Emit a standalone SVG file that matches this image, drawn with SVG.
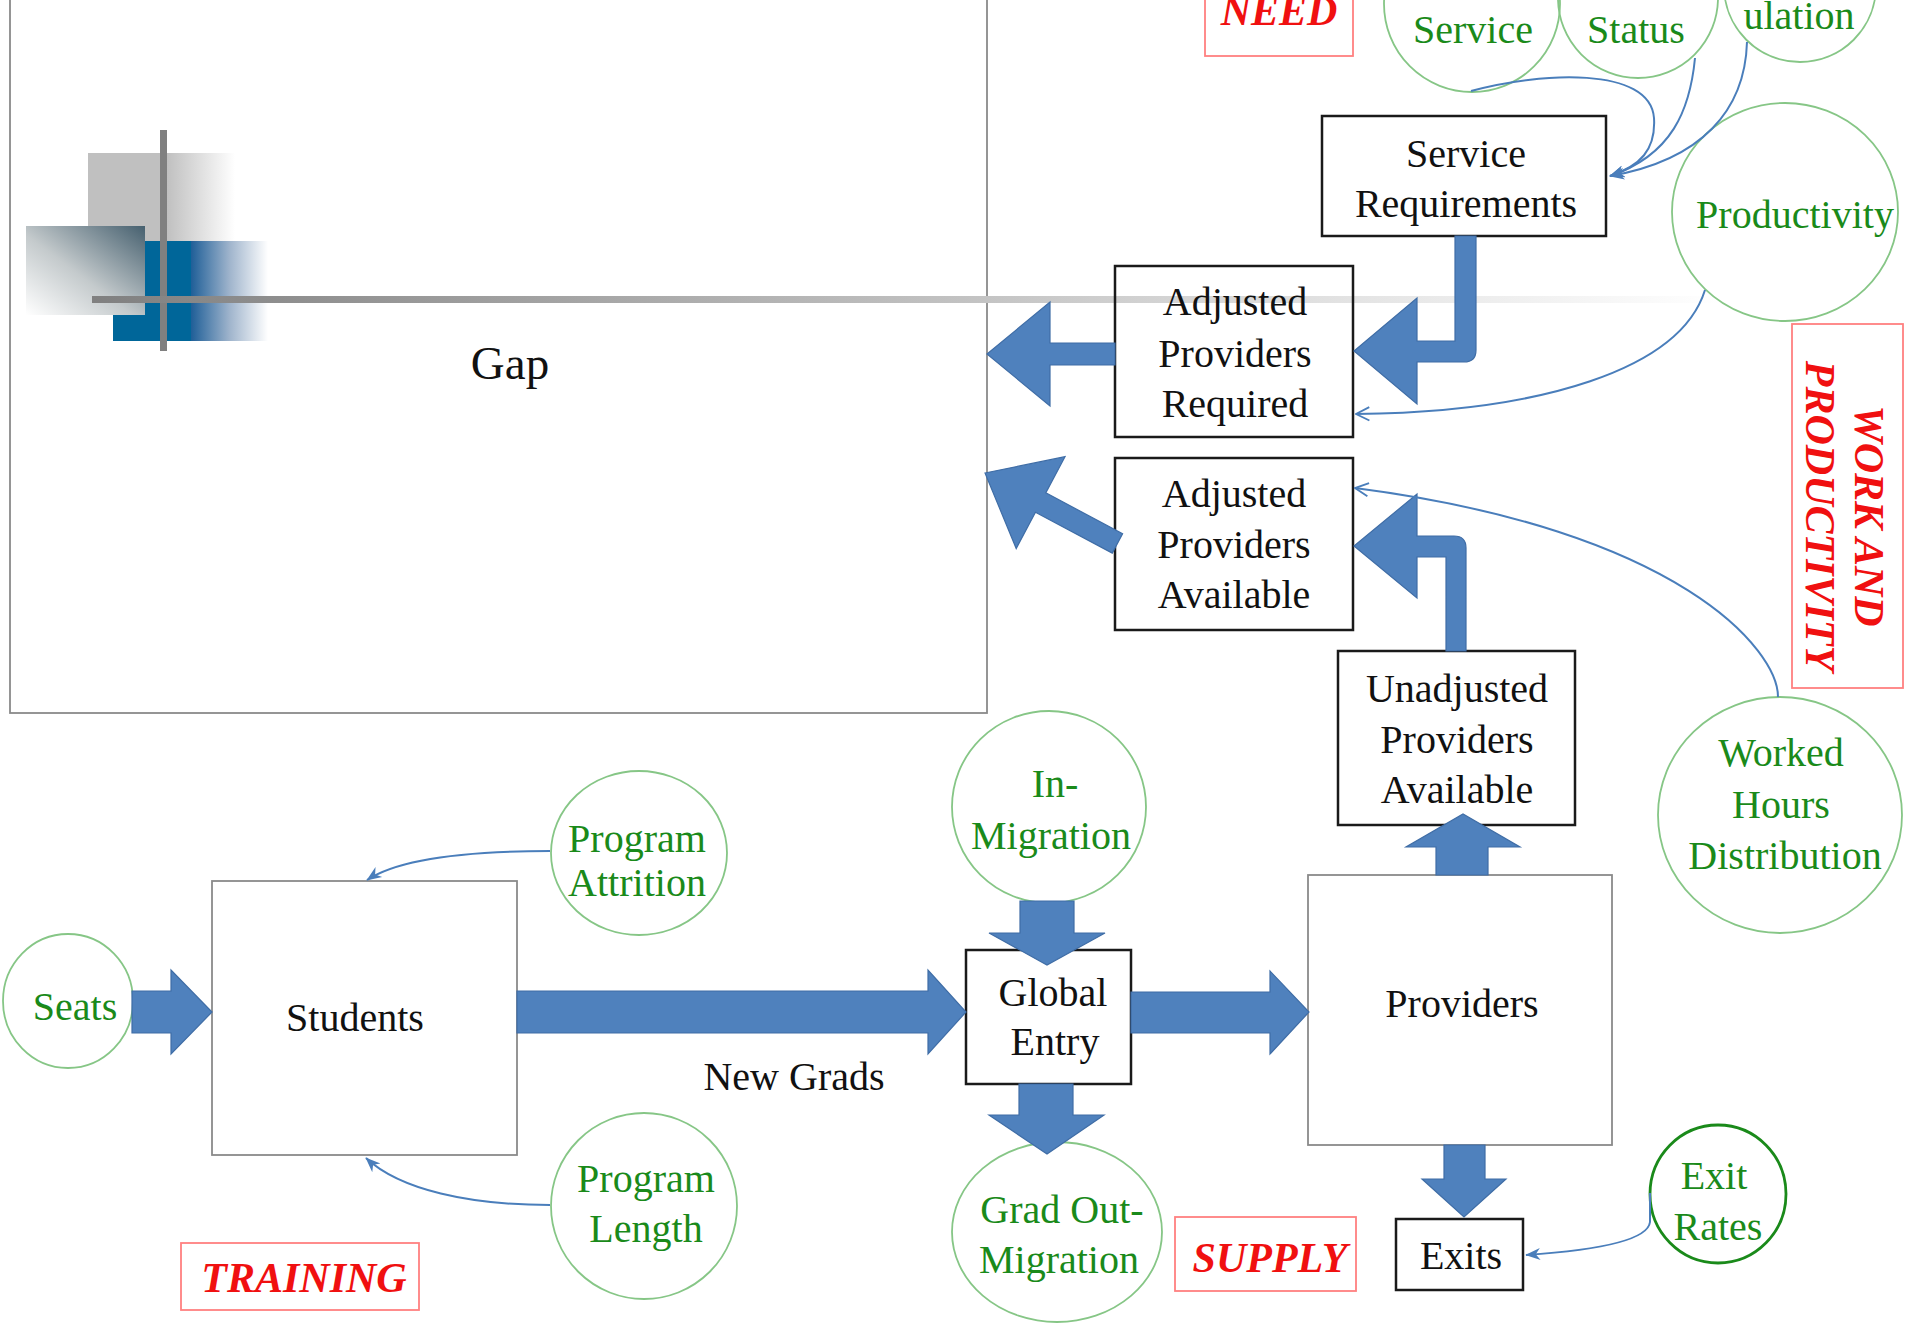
<svg xmlns="http://www.w3.org/2000/svg" width="1911" height="1326" viewBox="0 0 1911 1326">
<defs>
<style>
.t{font-family:"Liberation Serif","Times New Roman",serif;font-size:40px;fill:#111;text-anchor:middle}
.g{font-family:"Liberation Serif","Times New Roman",serif;font-size:40px;fill:#1a8a1a;text-anchor:middle}
.r{font-family:"Liberation Serif","Times New Roman",serif;font-size:42px;fill:#f01010;font-weight:bold;font-style:italic;text-anchor:middle}
.bx{fill:none;stroke:#1a1a1a;stroke-width:2.5}
.gb{fill:none;stroke:#8a8a8a;stroke-width:1.8}
.rb{fill:none;stroke:#ff8080;stroke-width:1.8}
.c{fill:none;stroke:#86c686;stroke-width:1.8}
.ba{fill:#4f81bd;stroke:#3f6da6;stroke-width:1.2}
.ln{fill:none;stroke:#4a7ebb;stroke-width:2}
</style>
<linearGradient id="grayFade" x1="0" y1="0" x2="1" y2="0"><stop offset="0" stop-color="#c0c0c0"/><stop offset="1" stop-color="#ffffff"/></linearGradient>
<linearGradient id="blueFade" x1="0" y1="0" x2="1" y2="0"><stop offset="0" stop-color="#1f5f98"/><stop offset="0.5" stop-color="#9fb4cc"/><stop offset="1" stop-color="#ffffff"/></linearGradient>
<linearGradient id="diagFade" x1="1" y1="0" x2="0" y2="1"><stop offset="0" stop-color="#46606f"/><stop offset="0.55" stop-color="#c4cacc"/><stop offset="1" stop-color="#ffffff"/></linearGradient>
<linearGradient id="lineFade" gradientUnits="userSpaceOnUse" x1="92" y1="0" x2="1720" y2="0"><stop offset="0" stop-color="#808080"/><stop offset="0.55" stop-color="#c4c4c4"/><stop offset="0.78" stop-color="#e4e4e4"/><stop offset="1" stop-color="#ffffff"/></linearGradient>
<marker id="ah" viewBox="0 0 10 10" refX="9.5" refY="5" markerWidth="15" markerHeight="15" markerUnits="userSpaceOnUse" orient="auto"><path d="M0,1 L10,5 L0,9 L3,5 z" fill="#4a7ebb"/></marker>
<marker id="av" viewBox="0 0 12 12" refX="11" refY="6" markerWidth="16" markerHeight="16" markerUnits="userSpaceOnUse" orient="auto"><path d="M1,1 L11,6 L1,11" fill="none" stroke="#4a7ebb" stroke-width="1.4"/></marker>
</defs>
<rect width="1911" height="1326" fill="#ffffff"/>

<g id="gap-frame">
<rect x="10" y="-5" width="977" height="718" class="gb"/>
<rect x="88" y="153" width="80" height="88" fill="#c0c0c0"/>
<rect x="167" y="153" width="68" height="88" fill="url(#grayFade)"/>
<rect x="113" y="241" width="79" height="100" fill="#006699"/>
<rect x="191" y="241" width="77" height="100" fill="url(#blueFade)"/>
<rect x="26" y="226" width="119" height="89" fill="url(#diagFade)"/>
<rect x="160" y="130" width="7" height="221" fill="#808080"/>
<rect x="92" y="296" width="1628" height="7" fill="url(#lineFade)"/>
<text class="t" x="510" y="379" style="font-size:47px">Gap</text>
</g>

<g id="label-need"><rect x="1205" y="-5" width="148" height="61" class="rb"/><text class="r" x="1279" y="25">NEED</text></g>
<g id="label-training"><rect x="181" y="1243" width="238" height="67" class="rb"/><text class="r" x="304" y="1292">TRAINING</text></g>
<g id="label-supply"><rect x="1175" y="1217" width="181" height="74" class="rb"/><text class="r" x="1270" y="1272">SUPPLY</text></g>
<g id="label-work"><rect x="1792" y="324" width="111" height="364" class="rb"/>
<text class="r" transform="translate(1855,516) rotate(90)">WORK AND</text>
<text class="r" transform="translate(1806,516) rotate(90)">PRODUCTIVITY</text></g>

<g id="service"><ellipse cx="1472" cy="4" rx="88" ry="88" class="c"/><text class="g" x="1473" y="43">Service</text></g>
<g id="status"><ellipse cx="1638" cy="-2" rx="80" ry="80" class="c"/><text class="g" x="1636" y="43">Status</text></g>
<g id="population"><ellipse cx="1800" cy="-14" rx="76" ry="76" class="c"/><text class="g" x="1799" y="29">ulation</text></g>
<g id="productivity"><ellipse cx="1785" cy="212" rx="113" ry="109" class="c"/><text class="g" x="1795" y="228">Productivity</text></g>
<g id="worked-hours"><ellipse cx="1780" cy="815" rx="122" ry="118" class="c"/><text class="g" x="1781" y="766">Worked</text><text class="g" x="1781" y="818">Hours</text><text class="g" x="1785" y="869">Distribution</text></g>
<g id="exit-rates"><ellipse cx="1718" cy="1194" rx="68" ry="69" fill="none" stroke="#1a8a1a" stroke-width="2.8"/><text class="g" x="1714" y="1189">Exit</text><text class="g" x="1718" y="1240">Rates</text></g>
<g id="in-migration"><ellipse cx="1049" cy="807" rx="97" ry="96" class="c"/><text class="g" x="1055" y="797">In-</text><text class="g" x="1051" y="849">Migration</text></g>
<g id="grad-out-migration"><ellipse cx="1057" cy="1232" rx="105" ry="90" class="c"/><text class="g" x="1062" y="1223">Grad Out-</text><text class="g" x="1059" y="1273">Migration</text></g>
<g id="program-attrition"><ellipse cx="639" cy="853" rx="88" ry="82" class="c"/><text class="g" x="637" y="852">Program</text><text class="g" x="637" y="896">Attrition</text></g>
<g id="program-length"><ellipse cx="644" cy="1206" rx="93" ry="93" class="c"/><text class="g" x="646" y="1192">Program</text><text class="g" x="646" y="1242">Length</text></g>
<g id="seats"><ellipse cx="68" cy="1001" rx="65" ry="67" class="c"/><text class="g" x="75" y="1020">Seats</text></g>

<g id="service-requirements"><rect x="1322" y="116" width="284" height="120" class="bx"/><text class="t" x="1466" y="167">Service</text><text class="t" x="1466" y="217">Requirements</text></g>
<g id="adjusted-required"><rect x="1115" y="266" width="238" height="171" class="bx"/><text class="t" x="1235" y="315">Adjusted</text><text class="t" x="1235" y="367">Providers</text><text class="t" x="1235" y="417">Required</text></g>
<g id="adjusted-available"><rect x="1115" y="458" width="238" height="172" class="bx"/><text class="t" x="1234" y="507">Adjusted</text><text class="t" x="1234" y="558">Providers</text><text class="t" x="1234" y="608">Available</text></g>
<g id="unadjusted-available"><rect x="1338" y="651" width="237" height="174" class="bx"/><text class="t" x="1457" y="702">Unadjusted</text><text class="t" x="1457" y="753">Providers</text><text class="t" x="1457" y="803">Available</text></g>
<g id="students"><rect x="212" y="881" width="305" height="274" class="gb"/><text class="t" x="355" y="1031">Students</text></g>
<g id="global-entry"><rect x="966" y="950" width="165" height="134" class="bx"/><text class="t" x="1053" y="1006">Global</text><text class="t" x="1055" y="1055">Entry</text></g>
<g id="providers"><rect x="1308" y="875" width="304" height="270" class="gb"/><text class="t" x="1462" y="1017">Providers</text></g>
<g id="exits"><rect x="1396" y="1219" width="127" height="71" class="bx"/><text class="t" x="1461" y="1269">Exits</text></g>

<g id="connectors">
<polygon class="ba" points="132,991 171,991 171,970 212,1012 171,1054 171,1033 132,1033"/>
<polygon class="ba" points="517,991 928,991 928,970 966,1012 928,1054 928,1033 517,1033"/>
<text class="t" x="794" y="1090">New Grads</text>
<polygon class="ba" points="1131,992 1270,992 1270,971 1309,1012 1270,1054 1270,1033 1131,1033"/>
<polygon class="ba" points="1020,901 1074,901 1074,933 1105,933 1047,965 989,933 1020,933"/>
<polygon class="ba" points="1019,1084 1073,1084 1073,1115 1104,1115 1047,1154 989,1115 1019,1115"/>
<polygon class="ba" points="1436,875 1488,875 1488,847 1520,847 1463,814 1406,847 1436,847"/>
<polygon class="ba" points="1444,1145 1485,1145 1485,1179 1506,1179 1464,1217 1422,1179 1444,1179"/>
<path class="ba" d="M1455,236 L1476,236 L1476,350 Q1476,362 1464,362 L1417,362 L1417,404 L1354,351 L1417,298 L1417,341 L1455,341 Z"/>
<path class="ba" d="M1446,651 L1466,651 L1466,548 Q1466,536 1454,536 L1417,536 L1417,494 L1354,546 L1417,598 L1417,557 L1446,557 Z"/>
<polygon class="ba" points="1115,343 1050,343 1050,302 987,354 1050,406 1050,365 1115,365"/>
<polygon class="ba" transform="translate(985,473) rotate(28)" points="0,0 63,-52 63,-11 150,-11 150,11 63,11 63,52"/>
<path class="ln" d="M1471,91 C1540,72 1650,66 1654,118 C1656,150 1640,166 1610,176" marker-end="url(#ah)"/>
<path class="ln" d="M1695,58 C1690,110 1672,155 1610,176" marker-end="url(#ah)"/>
<path class="ln" d="M1747,42 C1745,110 1702,160 1610,176" marker-end="url(#ah)"/>
<path class="ln" d="M1705,290 C1680,370 1540,412 1356,414" marker-end="url(#av)"/>
<path class="ln" d="M1778,697 C1778,650 1680,530 1355,488" marker-end="url(#av)"/>
<path class="ln" d="M550,851 C470,851 400,858 367,880" marker-end="url(#ah)"/>
<path class="ln" d="M550,1205 C470,1205 400,1190 366,1158" marker-end="url(#ah)"/>
<path class="ln" d="M1650,1193 L1650,1222 C1648,1240 1600,1250 1526,1255" marker-end="url(#ah)"/>
</g>
</svg>
